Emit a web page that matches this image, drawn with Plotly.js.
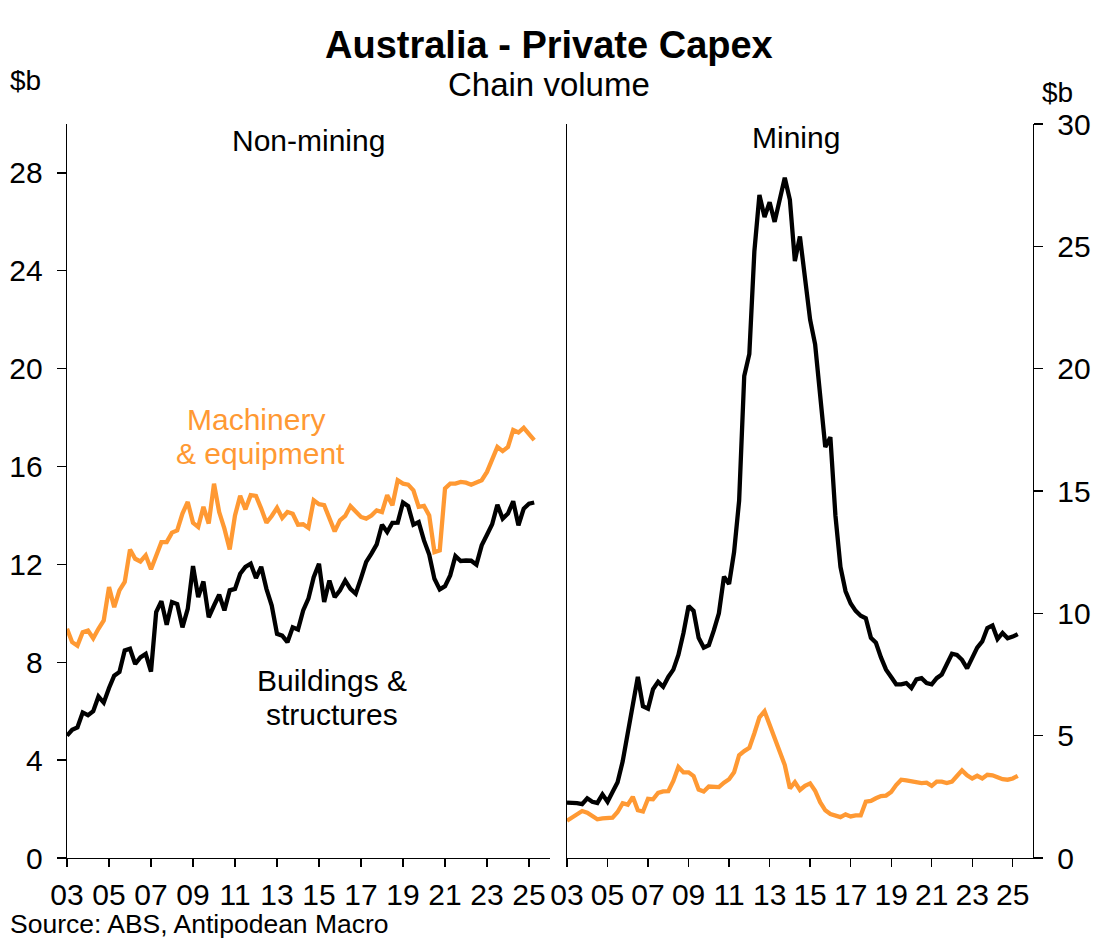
<!DOCTYPE html>
<html>
<head>
<meta charset="utf-8">
<script src="https://cdn.plot.ly/plotly-3.0.1.min.js"></script>
<style>html,body{margin:0;padding:0;background:#fff;}#chart{width:1096px;height:940px;}</style>
</head>
<body>
<div id="chart"></div>
<script>
// Quarterly, 2003 Q1 .. 2025 Q2 (90 quarters)
const startYear = 2003;
const nQuarters = 90;
const quarters = [];
for (let i = 0; i < nQuarters; i++) {
  const y = startYear + Math.floor(i / 4);
  const m = (i % 4) * 3 + 1;
  quarters.push(y + '-' + String(m).padStart(2, '0') + '-01');
}

const nonMiningBuildings = [
  5.0, 5.24, 5.34, 5.95, 5.84, 6.0, 6.6, 6.35, 6.95, 7.45,
  7.6, 8.48, 8.55, 7.93, 8.2, 8.34, 7.62, 10.05, 10.5, 9.53,
  10.46, 10.38, 9.43, 10.18, 11.93, 10.66, 11.3, 9.84, 10.32, 10.76,
  10.12, 10.94, 11.0, 11.62, 11.9, 12.03, 11.44, 11.9, 11.0, 10.32,
  9.16, 9.09, 8.82, 9.43, 9.34, 10.12, 10.6, 11.48, 12.03, 10.46,
  11.34, 10.66, 10.94, 11.34, 11.0, 10.8, 11.44, 12.1, 12.44, 12.82,
  13.62, 13.32, 13.7, 13.71, 14.53, 14.38, 13.62, 13.73, 12.98, 12.4,
  11.41, 10.98, 11.11, 11.55, 12.34, 12.14, 12.16, 12.15, 11.99, 12.78,
  13.21, 13.64, 14.44, 13.87, 14.08, 14.58, 13.6, 14.28, 14.48, 14.53
];
const nonMiningMachinery = [
  9.37, 8.82, 8.68, 9.23, 9.3, 8.98, 9.37, 9.71, 11.07, 10.25,
  10.94, 11.28, 12.61, 12.23, 12.12, 12.37, 11.8, 12.37, 12.91, 12.91,
  13.3, 13.39, 14.08, 14.55, 13.7, 13.53, 14.35, 13.67, 15.3, 14.14,
  13.46, 12.61, 14.0, 14.8, 14.25, 14.83, 14.8, 14.28, 13.7, 13.98,
  14.31, 13.9, 14.14, 14.07, 13.62, 13.64, 13.49, 14.62, 14.46, 14.42,
  13.9, 13.35, 13.8, 13.98, 14.38, 14.17, 13.94, 13.87, 14.0, 14.21,
  14.14, 14.83, 14.42, 15.44, 15.3, 15.26, 15.03, 14.35, 14.39, 14.0,
  12.5, 12.57, 15.1, 15.3, 15.3, 15.37, 15.34, 15.26, 15.33, 15.44,
  15.78, 16.26, 16.8, 16.63, 16.8, 17.49, 17.39, 17.58, 17.35, 17.08
];
const miningBuildings = [
  2.26, 2.26, 2.24, 2.2, 2.44, 2.3, 2.25, 2.6, 2.3, 2.7,
  3.1, 3.95, 5.2, 6.4, 7.4, 6.2, 6.1, 6.9, 7.2, 7.0,
  7.4, 7.7, 8.3, 9.2, 10.3, 10.1, 9.0, 8.6, 8.7, 9.3,
  10.0, 11.5, 11.2, 12.5, 14.6, 19.7, 20.6, 24.8, 27.1, 26.2,
  26.8, 26.0, 27.0, 27.8, 26.9, 24.4, 25.4, 23.5, 22.0, 21.0,
  19.0, 16.8, 17.2, 14.0, 11.9, 10.9, 10.4, 10.1, 9.9, 9.8,
  9.0, 8.8, 8.2, 7.7, 7.4, 7.1, 7.1, 7.15, 6.95, 7.3,
  7.35, 7.15, 7.1, 7.35, 7.5, 7.95, 8.35, 8.3, 8.1, 7.75,
  8.2, 8.6, 8.85, 9.4, 9.5, 8.95, 9.2, 8.98, 9.05, 9.15
];
const miningMachinery = [
  1.52, 1.65, 1.8, 1.92, 1.85, 1.7, 1.58, 1.62, 1.62, 1.65,
  1.88, 2.24, 2.18, 2.5, 1.95, 1.9, 2.42, 2.4, 2.66, 2.72,
  2.73, 3.15, 3.72, 3.5, 3.5, 3.35, 2.8, 2.72, 2.92, 2.9,
  2.9, 3.08, 3.22, 3.5, 4.2, 4.37, 4.5, 5.1, 5.75, 6.0,
  5.45, 4.85, 4.3, 3.8, 2.85, 3.1, 2.78, 2.95, 3.05, 2.75,
  2.28, 1.95, 1.8, 1.72, 1.67, 1.78, 1.7, 1.74, 1.74, 2.3,
  2.33, 2.44, 2.53, 2.55, 2.7, 2.98, 3.2, 3.17, 3.12, 3.08,
  3.06, 3.08, 2.95, 3.12, 3.12, 3.06, 3.12, 3.35, 3.58, 3.38,
  3.25, 3.36, 3.25, 3.4, 3.38, 3.3, 3.22, 3.2, 3.25, 3.36
];

const xTickYears = [2003, 2005, 2007, 2009, 2011, 2013, 2015, 2017, 2019, 2021, 2023, 2025];
const xTickLabels = ['03', '05', '07', '09', '11', '13', '15', '17', '19', '21', '23', '25'];
const leftYTicks = [0, 4, 8, 12, 16, 20, 24, 28];
const rightYTicks = [0, 5, 10, 15, 20, 25, 30];

const BLACK = '#000000';
const ORANGE = '#FF9933';
const FONT = 'Liberation Sans, Arial, sans-serif';

const W = 1096, H = 940;
const L = 67, R = 1033, T = 124, B = 858;
const px = x => (x - L) / (R - L);
const py = y => (B - y) / (B - T);

const tickDates = xTickYears.map(y => y + '-01-01');

const traces = [
  {x: quarters, y: nonMiningMachinery, xaxis: 'x', yaxis: 'y', type: 'scatter', mode: 'lines',
   line: {color: ORANGE, width: 4.3}, name: 'Machinery & equipment'},
  {x: quarters, y: nonMiningBuildings, xaxis: 'x', yaxis: 'y', type: 'scatter', mode: 'lines',
   line: {color: BLACK, width: 4.3}, name: 'Buildings & structures'},
  {x: quarters, y: miningMachinery, xaxis: 'x2', yaxis: 'y2', type: 'scatter', mode: 'lines',
   line: {color: ORANGE, width: 4.3}, name: 'Mining M&E'},
  {x: quarters, y: miningBuildings, xaxis: 'x2', yaxis: 'y2', type: 'scatter', mode: 'lines',
   line: {color: BLACK, width: 4.3}, name: 'Mining B&S'}
];

const xAxisCommon = {
  type: 'date',
  range: ['2003-01-01', '2026-01-01'],
  tickmode: 'array',
  tickvals: tickDates,
  ticktext: xTickLabels,
  ticks: 'outside', ticklen: 8, tickwidth: 1.3, tickcolor: BLACK,
  showline: true, linecolor: BLACK, linewidth: 1.3,
  showgrid: false, zeroline: false,
  tickfont: {family: FONT, size: 30, color: BLACK},
  ticklabelstandoff: 2
};

const yAxisCommon = {
  domain: [0, 1], range: [0, 30],
  tickmode: 'array',
  ticks: 'outside', ticklen: 9, tickwidth: 1.3, tickcolor: BLACK,
  showline: true, linecolor: BLACK, linewidth: 1.3,
  showgrid: false, zeroline: false,
  tickfont: {family: FONT, size: 30, color: BLACK},
  ticklabelstandoff: 8
};

const layout = {
  width: W, height: H,
  paper_bgcolor: '#fff', plot_bgcolor: '#fff',
  showlegend: false,
  margin: {l: L, r: W - R, t: T, b: H - B, pad: 0},
  xaxis: Object.assign({}, xAxisCommon, {domain: [0, px(550)], anchor: 'y'}),
  xaxis2: Object.assign({}, xAxisCommon, {domain: [px(567), 1], anchor: 'y2'}),
  yaxis: Object.assign({}, yAxisCommon, {anchor: 'x', tickvals: leftYTicks}),
  yaxis2: Object.assign({}, yAxisCommon, {anchor: 'x2', side: 'right', mirror: true, tickvals: rightYTicks}),
  annotations: [
    {text: '<b>Australia - Private Capex</b>', x: px(549), y: py(45), xref: 'paper', yref: 'paper',
     xanchor: 'center', yanchor: 'middle', showarrow: false, font: {family: FONT, size: 38, color: BLACK}},
    {text: 'Chain volume', x: px(549), y: py(85), xref: 'paper', yref: 'paper',
     xanchor: 'center', yanchor: 'middle', showarrow: false, font: {family: FONT, size: 33, color: BLACK}},
    {text: '$b', x: px(8), y: py(80), xref: 'paper', yref: 'paper',
     xanchor: 'left', yanchor: 'middle', showarrow: false, font: {family: FONT, size: 28, color: BLACK}},
    {text: '$b', x: px(1040), y: py(92), xref: 'paper', yref: 'paper',
     xanchor: 'left', yanchor: 'middle', showarrow: false, font: {family: FONT, size: 28, color: BLACK}},
    {text: 'Non-mining', x: px(308), y: py(140), xref: 'paper', yref: 'paper',
     xanchor: 'center', yanchor: 'middle', showarrow: false, font: {family: FONT, size: 30, color: BLACK}},
    {text: 'Mining', x: px(796), y: py(138), xref: 'paper', yref: 'paper',
     xanchor: 'center', yanchor: 'middle', showarrow: false, font: {family: FONT, size: 30, color: BLACK}},
    {text: 'Machinery', x: px(256), y: py(420), xref: 'paper', yref: 'paper',
     xanchor: 'center', yanchor: 'middle', showarrow: false, font: {family: FONT, size: 30, color: ORANGE}},
    {text: '&amp; equipment', x: px(260), y: py(453), xref: 'paper', yref: 'paper',
     xanchor: 'center', yanchor: 'middle', showarrow: false, font: {family: FONT, size: 30, color: ORANGE}},
    {text: 'Buildings &amp;', x: px(332), y: py(680), xref: 'paper', yref: 'paper',
     xanchor: 'center', yanchor: 'middle', showarrow: false, font: {family: FONT, size: 30, color: BLACK}},
    {text: 'structures', x: px(332), y: py(714), xref: 'paper', yref: 'paper',
     xanchor: 'center', yanchor: 'middle', showarrow: false, font: {family: FONT, size: 30, color: BLACK}},
    {text: 'Source: ABS, Antipodean Macro', x: px(8), y: py(924), xref: 'paper', yref: 'paper',
     xanchor: 'left', yanchor: 'middle', showarrow: false, font: {family: FONT, size: 26.5, color: BLACK}}
  ]
};

Plotly.newPlot('chart', traces, layout, {displayModeBar: false, staticPlot: true});
</script>
</body>
</html>
